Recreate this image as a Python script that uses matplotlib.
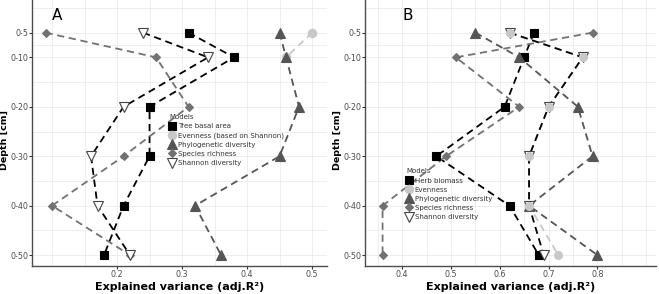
"""
Varianza explicada por profundidad (paneles A y B).
"""
import numpy as np
import matplotlib
matplotlib.use("Agg")
import matplotlib.pyplot as plt
from matplotlib.lines import Line2D

# Profundidades (limite inferior de cada capa, cm)
profundidad = [5, 10, 20, 30, 40, 50]
etiquetas_prof = ['0-5', '0-10', '0-20', '0-30', '0-40', '0-50']

# Panel A
a_basal = [0.31, 0.38, 0.25, 0.25, 0.21, 0.18]
a_evenness = [0.50, 0.46, np.nan, np.nan, np.nan, np.nan]
a_filo = [0.45, 0.46, 0.48, 0.45, 0.32, 0.36]
a_riqueza = [0.09, 0.26, 0.31, 0.21, 0.10, 0.22]
a_shannon = [0.24, 0.34, 0.21, 0.16, 0.17, 0.22]

# Panel B
b_biomasa = [0.67, 0.65, 0.61, 0.47, 0.62, 0.68]
b_evenness = [0.62, 0.77, 0.70, 0.66, 0.66, 0.72]
b_filo = [0.55, 0.64, 0.76, 0.79, 0.66, 0.80]
b_riqueza = [0.79, 0.51, 0.64, 0.49, 0.36, 0.36]
b_shannon = [0.62, 0.77, 0.70, 0.66, 0.66, 0.69]

a_ticks = [0.2, 0.3, 0.4, 0.5]
b_ticks = [0.4, 0.5, 0.6, 0.7, 0.8]

NEGRO = '#000000'
CLARO = '#c8c8c8'
OSCURO = '#555555'
MEDIO = '#727272'
EJE = '#4d4d4d'

W, H = 659, 294
ABAJO = 28  # px desde el borde inferior hasta el eje x


def series(ax, datos):
    for valores, color, marcador, ms, fc, ec in datos:
        ax.plot(valores, profundidad, color=color, lw=1.3, dashes=(4, 2.6),
                zorder=3)
        ax.plot(valores, profundidad, ls='none', marker=marcador, ms=ms,
                mfc=fc, mec=ec, mew=0.8, zorder=4)


def estilo(ax, xlim, ticks, letra, xletra):
    ax.set_xlim(*xlim)
    ax.set_ylim(52.2, -1.6)
    ax.set_yticks(profundidad)
    ax.set_yticklabels(etiquetas_prof)
    ax.set_yticks([0, 7.5, 15, 25, 35, 45], minor=True)
    ax.set_xticks(ticks)
    ax.set_xticklabels([f'{t:.1f}' for t in ticks])
    menores = [v for v in np.arange(0.05, 1.0, 0.05)
               if xlim[0] < v < xlim[1] and all(abs(v - t) > 1e-6 for t in ticks)]
    ax.set_xticks(menores, minor=True)
    ax.grid(True, which='both', color='#ebebeb', lw=0.6, zorder=0)
    ax.set_axisbelow(True)
    for lado in ['top', 'right']:
        ax.spines[lado].set_visible(False)
    for lado in ['left', 'bottom']:
        ax.spines[lado].set_color(EJE)
        ax.spines[lado].set_linewidth(1.0)
    ax.tick_params(which='major', length=2, color='#333333',
                   labelcolor=EJE, labelsize=5.8, pad=0.6)
    ax.tick_params(which='minor', length=0)
    ax.text(xletra, 1.6, letra, fontsize=11, ha='left', va='center')


def leyenda(ax, nombres, estilos, loc):
    handles = []
    for (color, marcador, ms, fc, ec) in estilos:
        handles.append(Line2D([], [], ls='none', marker=marcador, ms=ms,
                              mfc=fc, mec=ec, mew=0.8))
    ley = ax.legend(handles, nombres, title='Models', loc='upper left',
                    bbox_to_anchor=loc, frameon=False, fontsize=5,
                    title_fontsize=5, handlelength=0.8, handletextpad=0.4,
                    labelspacing=0.45, borderpad=0)
    ley._legend_box.align = 'left'
    for t in ley.get_texts():
        t.set_color('#333333')
    ley.get_title().set_color('#333333')


fig = plt.figure(figsize=(W / 100, H / 100), dpi=100)
ax_a = fig.add_axes([32 / W, ABAJO / H, 295 / W, (H - ABAJO) / H])
ax_b = fig.add_axes([365 / W, ABAJO / H, 291 / W, (H - ABAJO) / H])

# Panel A
series(ax_a, [
    (a_basal, NEGRO, 's', 6, NEGRO, NEGRO),
    (a_evenness, CLARO, 'o', 6, CLARO, CLARO),
    (a_filo, OSCURO, '^', 6.5, OSCURO, OSCURO),
    (a_riqueza, MEDIO, 'D', 3.8, MEDIO, MEDIO),
    (a_shannon, NEGRO, 'v', 7, 'white', '#444444'),
])
estilo(ax_a, (0.0692, 0.523), a_ticks, 'A', 0.1)
leyenda(ax_a, ['Tree basal area', 'Evenness (based on Shannon)',
               'Phylogenetic diversity', 'Species richness', 'Shannon diversity'],
        [(NEGRO, 's', 6, NEGRO, NEGRO), (CLARO, 'o', 6, CLARO, CLARO),
         (OSCURO, '^', 6.5, OSCURO, OSCURO), (MEDIO, 'D', 3.8, MEDIO, MEDIO),
         (NEGRO, 'v', 7, 'white', '#444444')],
        (0.455, 0.585))

# Panel B
series(ax_b, [
    (b_biomasa, NEGRO, 's', 6, NEGRO, NEGRO),
    (b_shannon, NEGRO, 'v', 7, 'white', '#444444'),
    (b_filo, OSCURO, '^', 6.5, OSCURO, OSCURO),
    (b_riqueza, MEDIO, 'D', 3.8, MEDIO, MEDIO),
])
ax_b.plot(b_evenness, profundidad, color=CLARO, lw=1.3, dashes=(4, 2.6), zorder=2)
ax_b.plot(b_evenness, profundidad, ls='none', marker='o', ms=5.5,
          mfc=CLARO, mec=CLARO, zorder=5)
estilo(ax_b, (0.324, 0.92), b_ticks, 'B', 0.4)
leyenda(ax_b, ['Herb biomass', 'Evenness', 'Phylogenetic diversity',
               'Species richness', 'Shannon diversity'],
        [(NEGRO, 's', 6, NEGRO, NEGRO), (CLARO, 'o', 6, CLARO, CLARO),
         (OSCURO, '^', 6.5, OSCURO, OSCURO), (MEDIO, 'D', 3.8, MEDIO, MEDIO),
         (NEGRO, 'v', 7, 'white', '#444444')],
        (0.13, 0.38))

# Titulos de ejes
for xc in [(32 + 327) / 2, (365 + 656) / 2]:
    fig.text(xc / W, 2 / H, 'Explained variance (adj.R\u00b2)',
             fontsize=8, fontweight='bold', ha='center', va='bottom')
for xc in [5, 338]:
    fig.text(xc / W, 1 - 140 / H, 'Depth [cm]', fontsize=6.8,
             fontweight='bold', rotation=90, ha='center', va='center')

fig.savefig('out.png', dpi=100)
plt.close(fig)
